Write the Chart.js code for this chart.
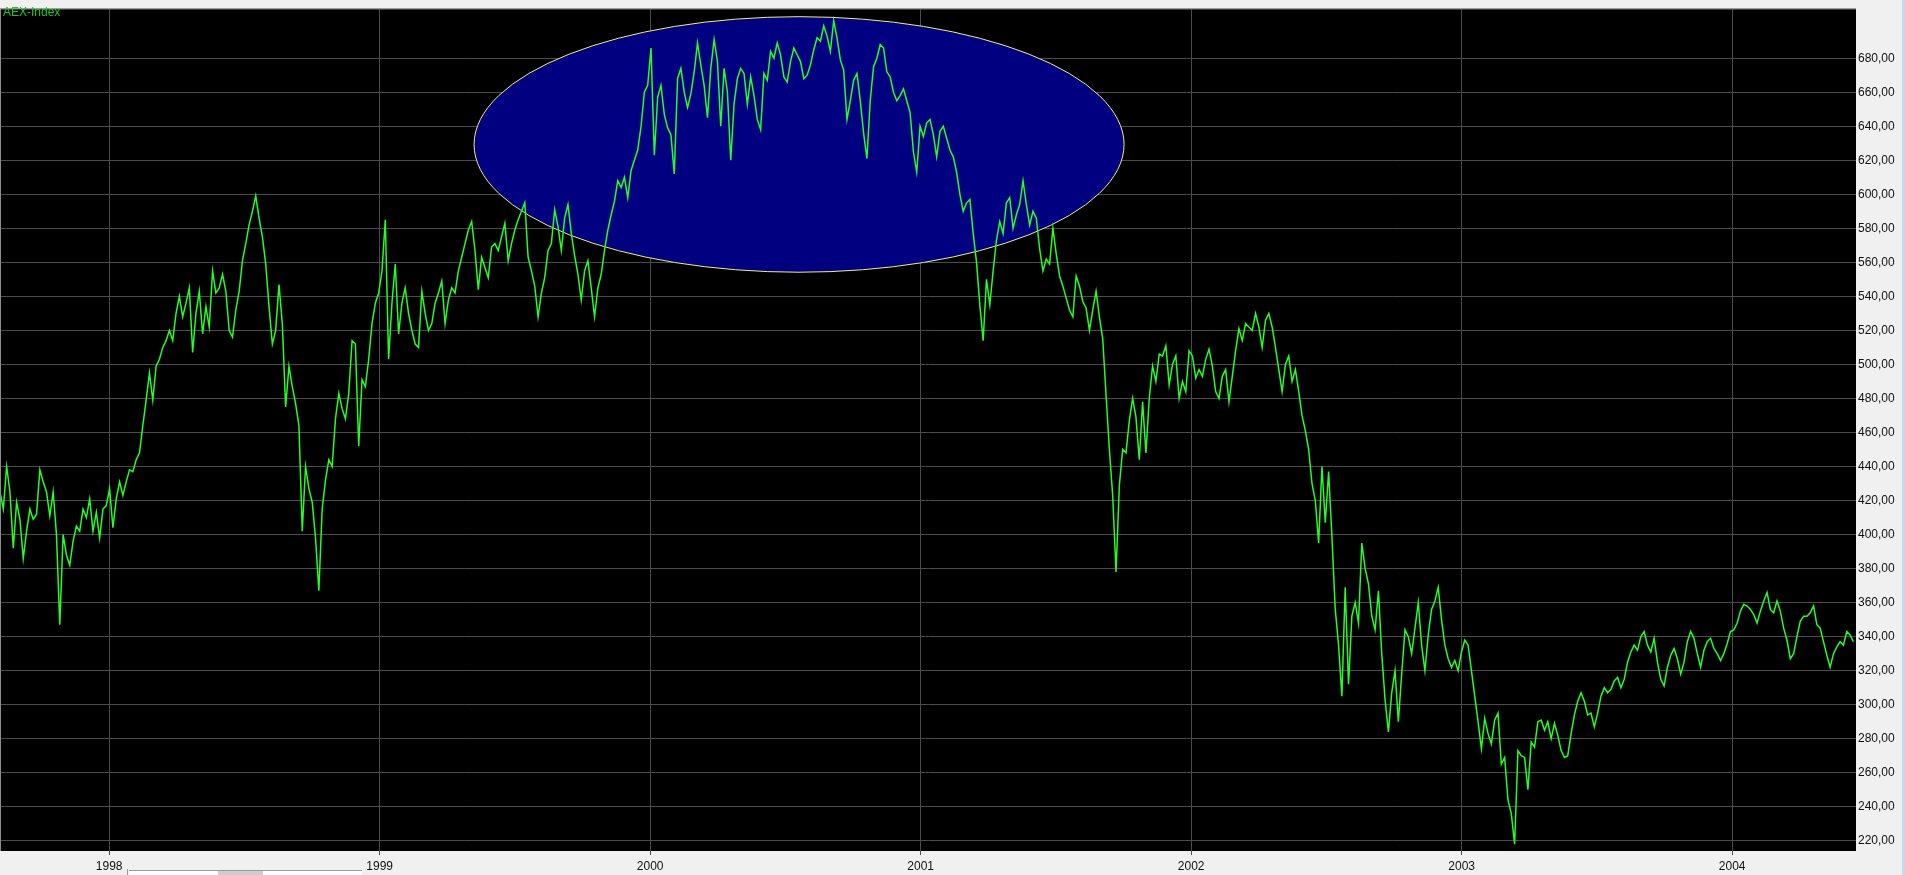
<!DOCTYPE html>
<html>
<head>
<meta charset="utf-8">
<title>AEX-Index</title>
<script src="https://cdn.jsdelivr.net/npm/chart.js@4.4.1/dist/chart.umd.min.js"></script>
<style>
  html, body { margin: 0; padding: 0; background: #f0f0f0; overflow: hidden; }
  canvas { display: block; background: #f0f0f0; }
</style>
</head>
<body>
<canvas id="aexChart" width="1905" height="875"></canvas>
<script>
// tick labels
const yearTicks = [1998, 1999, 2000, 2001, 2002, 2003, 2004];
const priceTicks = [220, 240, 260, 280, 300, 320, 340, 360, 380, 400, 420, 440, 460,
  480, 500, 520, 540, 560, 580, 600, 620, 640, 660, 680];

// AEX closes, one sample about every 3 trading days
const sampleStep = 0.012279; // years between samples

const aex1997 = [
  425, 415, 440, 425, 392, 419, 409, 386, 402, 415,
  409, 412, 438, 431, 425, 411, 425, 400, 347, 400,
  388, 382, 396, 405, 402, 415, 410, 421, 402, 413,
  398, 415, 417, 427, 404, 421, 431, 423, 431, 438,
  437, 444, 448, 464, 479, 495, 479, 499, 503, 510,
  514, 520, 514, 530, 540, 528, 536, 545, 507, 530,
  543, 518, 534, 522, 555, 542, 545, 553, 543, 520,
  516, 532, 543, 561, 571, 582, 590, 599, 586, 575,
  559, 534, 512, 520, 547, 524, 475, 499, 487, 477,
  464, 402, 440, 427, 419, 398, 367, 415, 432, 444,
  440, 468, 483, 474, 468, 483, 514, 512, 452, 491,
  487, 503
];
const aex1999 = [
  524, 536, 542, 555, 585, 503, 536, 559, 518, 536,
  545, 530, 520, 512, 510, 543, 530, 520, 524, 536,
  542, 549, 524, 538, 545, 542, 555, 563, 571, 579,
  584, 567, 544, 563, 557, 551, 569, 571, 567, 575,
  583, 561, 571, 579, 585, 590, 595, 563, 555, 546,
  528, 542, 551, 567, 571, 591, 581, 567, 586, 594,
  577, 564, 553, 538, 555, 561, 545, 528, 545, 553,
  567, 579, 588, 596, 608, 604, 610, 598, 614, 620,
  626, 640, 660, 664, 686, 623, 657, 664, 647, 639,
  635, 612, 668, 674, 660, 651, 659, 672, 689, 676,
  664, 645, 674, 691, 678, 640, 674, 660, 620, 653,
  668, 674
];
const aex2000 = [
  671, 653, 669, 658, 644, 638, 671, 667, 684, 680,
  689, 682, 669, 666, 678, 686, 682, 678, 668, 670,
  676, 685, 692, 690, 699, 693, 684, 702, 692, 679,
  673, 644, 655, 667, 671, 655, 636, 621, 655, 675,
  680, 688, 686, 672, 669, 660, 655, 658, 662, 655,
  648, 625, 613, 640, 634, 642, 644, 635, 622, 637,
  640, 633, 626, 622, 613, 600, 590, 595, 597, 577,
  560, 535, 514, 550, 535, 555, 573, 584, 577, 595,
  598, 580, 588, 594, 608, 594, 582, 590, 586, 568,
  555, 562, 559, 580, 565, 552, 546, 539, 532, 528,
  552, 546, 537, 533, 520, 532, 543, 528, 515, 482,
  450, 423
];
const aex2001 = [
  378, 429, 450, 448, 467, 480, 469, 444, 478, 448,
  480, 499, 490, 506, 505, 511, 488, 500, 505, 480,
  490, 484, 508, 505, 492, 497, 493, 503, 509, 499,
  484, 480, 493, 497, 478, 493, 508, 521, 514, 524,
  522, 520, 530, 522, 510, 526, 530, 522, 510, 497,
  484, 500, 505, 490, 497, 484, 470, 461, 450, 430,
  420, 395, 440, 407, 437, 399, 356, 335, 305, 369,
  312, 352, 360, 348, 395, 380, 371, 352, 344, 367,
  330, 303, 284, 307, 320, 290, 318, 344, 340, 330,
  345, 360, 335, 320, 341, 356, 361, 369, 350, 335,
  327, 322, 326, 320, 331, 338, 335, 320, 305, 290,
  274, 292
];
const aex2003 = [
  283, 277, 291, 295, 265, 269, 244, 236, 218, 273,
  270, 269, 250, 278, 275, 290, 291, 285, 290, 280,
  289, 282, 273, 269, 270, 283, 294, 302, 307, 302,
  294, 295, 287, 295, 305, 310, 307, 309, 314, 316,
  310, 315, 325, 331, 335, 332, 340, 343, 335, 331,
  339, 325, 315, 311, 322, 329, 333, 327, 318, 325,
  337, 343, 339, 330, 322, 332, 337, 339, 333, 330,
  326, 330, 336, 343, 344, 348, 355, 359, 358, 356,
  353, 348, 355, 361, 366, 356, 354, 361, 355, 345,
  338, 327, 330, 340, 349, 352, 352, 354, 358, 347,
  345, 337, 329, 322, 330, 334, 337, 335, 343, 341,
  337
];

// first sample date (decimal year) of each block
const blockStarts = [1997.5964, 1998.9717, 2000.3470, 2001.7223, 2003.0976];
const blocks = [aex1997, aex1999, aex2000, aex2001, aex2003];

// highlighted zone drawn as an ellipse, in data units
const highlight = { from: 1999.349, to: 2001.752, low: 554.2, high: 704.4 };

const points = [];
blocks.forEach((values, b) => {
  values.forEach((v, i) => {
    points.push({ x: blockStarts[b] + i * sampleStep, y: v });
  });
});

const frame = {
  id: "frame",
  beforeDraw(chart) {
    const { ctx, chartArea: a } = chart;
    ctx.save();
    ctx.fillStyle = "#000000";
    ctx.fillRect(a.left, a.top, a.right - a.left, a.bottom - a.top);
    ctx.restore();
  },
  beforeDatasetsDraw(chart) {
    const { ctx, scales } = chart;
    const x1 = scales.x.getPixelForValue(highlight.from);
    const x2 = scales.x.getPixelForValue(highlight.to);
    const y1 = scales.y.getPixelForValue(highlight.high);
    const y2 = scales.y.getPixelForValue(highlight.low);
    ctx.save();
    ctx.beginPath();
    ctx.ellipse((x1 + x2) / 2, (y1 + y2) / 2, (x2 - x1) / 2, (y2 - y1) / 2, 0, 0, Math.PI * 2);
    ctx.fillStyle = "#000080";
    ctx.fill();
    ctx.lineWidth = 1;
    ctx.strokeStyle = "#f0f07a";
    ctx.stroke();
    ctx.restore();
  },
  afterDraw(chart) {
    const { ctx, chartArea: a } = chart;
    ctx.save();
    // window edges
    ctx.strokeStyle = "#8c8c8c";
    ctx.beginPath();
    ctx.moveTo(0, a.top - 0.5);
    ctx.lineTo(a.right, a.top - 0.5);
    ctx.moveTo(a.left - 0.5, a.top);
    ctx.lineTo(a.left - 0.5, a.bottom);
    ctx.stroke();
    ctx.fillStyle = "#c3d9ee";
    ctx.fillRect(1902, 0, 3, 875);
    // scrollbar stub at the bottom
    ctx.fillStyle = "#ffffff";
    ctx.fillRect(129, 871, 233, 4);
    ctx.fillStyle = "#cdcdcd";
    ctx.fillRect(218, 871, 45, 4);
    ctx.strokeStyle = "#9a9a9a";
    ctx.beginPath();
    ctx.moveTo(127.5, 869);
    ctx.lineTo(127.5, 875);
    ctx.moveTo(129, 870.5);
    ctx.lineTo(362, 870.5);
    ctx.stroke();
    // title
    ctx.fillStyle = "#1ec81e";
    ctx.font = "12px 'Liberation Sans', Arial, sans-serif";
    ctx.textBaseline = "middle";
    ctx.fillText("AEX-Index", 3, 13);
    ctx.restore();
  }
};

new Chart(document.getElementById("aexChart"), {
  type: "line",
  data: {
    datasets: [
      {
        label: "AEX-Index",
        data: points,
        borderColor: "#22ff22",
        borderWidth: 1.5,
        pointRadius: 0,
        tension: 0,
        fill: false,
      },
    ],
  },
  options: {
    responsive: false,
    animation: false,
    devicePixelRatio: 1,
    layout: { padding: { left: 1, top: 4, right: 0, bottom: 0 } },
    plugins: {
      legend: { display: false },
      tooltip: { enabled: false },
    },
    scales: {
      x: {
        type: "linear",
        min: 1997.6001,
        max: 2004.4579,
        afterBuildTicks: (s) => {
          s.ticks = yearTicks.map((v) => ({ value: v }));
        },
        afterFit: (s) => {
          s.height = 24;
        },
        grid: { color: "#4c4c4c", tickColor: "#4c4c4c", tickLength: 4 },
        border: { display: false },
        ticks: {
          color: "#111111",
          font: { family: "'Liberation Sans', Arial, sans-serif", size: 12 },
          padding: 4,
          maxRotation: 0,
          autoSkip: false,
          callback: (v) => String(v),
        },
      },
      y: {
        position: "right",
        min: 214.0,
        max: 708.8,
        afterBuildTicks: (s) => {
          s.ticks = priceTicks.map((v) => ({ value: v }));
        },
        afterFit: (s) => {
          s.width = 49;
        },
        grid: { color: "#4c4c4c", drawTicks: false },
        border: { display: false },
        ticks: {
          color: "#111111",
          font: { family: "'Liberation Sans', Arial, sans-serif", size: 12 },
          padding: 2,
          autoSkip: false,
          callback: (v) => v.toFixed(2).replace(".", ","),
        },
      },
    },
  },
  plugins: [frame],
});
</script>
</body>
</html>
